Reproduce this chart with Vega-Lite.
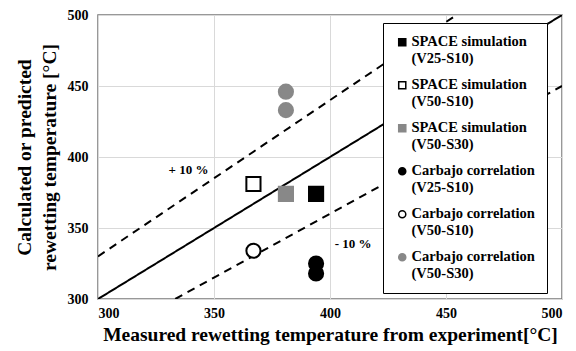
{
  "$schema": "https://vega.github.io/schema/vega-lite/v6.json",
  "width": 464,
  "height": 284,
  "autosize": "none",
  "padding": {"left": 98, "top": 15, "right": 14, "bottom": 52},
  "background": "white",
  "config": {
    "font": "Liberation Serif",
    "view": {"stroke": "#777777", "strokeWidth": 1.5},
    "axis": {
      "grid": true,
      "gridColor": "#d9d9d9",
      "gridWidth": 1,
      "domain": false,
      "ticks": false,
      "labelFont": "Liberation Serif",
      "labelFontWeight": "bold",
      "labelFontSize": 14,
      "labelColor": "#000000",
      "titleFont": "Liberation Serif",
      "titleFontWeight": "bold",
      "titleFontSize": 19.5,
      "titleColor": "#000000"
    },
    "legend": {
      "orient": "none",
      "legendX": 285,
      "legendY": 8,
      "fillColor": "#ffffff",
      "strokeColor": "#000000",
      "padding": 12,
      "symbolSize": 50,
      "symbolStrokeWidth": 1.5,
      "labelFont": "Liberation Serif",
      "labelFontWeight": "bold",
      "labelFontSize": 14.5,
      "labelColor": "#000000",
      "labelLimit": 200,
      "labelOffset": 2,
      "rowPadding": 11
    }
  },
  "datasets": {
    "lines": [
      {"line": "equal", "mx": 300, "cy": 300},
      {"line": "equal", "mx": 500, "cy": 500},
      {"line": "plus10", "mx": 300, "cy": 330},
      {"line": "plus10", "mx": 454.5, "cy": 500},
      {"line": "minus10", "mx": 333.3, "cy": 300},
      {"line": "minus10", "mx": 500, "cy": 450}
    ],
    "points": [
      {"series": "SPACE simulation|(V25-S10)", "mx": 394, "cy": 374},
      {"series": "SPACE simulation|(V50-S10)", "mx": 367, "cy": 381},
      {"series": "SPACE simulation|(V50-S30)", "mx": 381, "cy": 374},
      {"series": "Carbajo correlation|(V25-S10)", "mx": 394, "cy": 325},
      {"series": "Carbajo correlation|(V25-S10)", "mx": 394, "cy": 318},
      {"series": "Carbajo correlation|(V50-S10)", "mx": 367, "cy": 334},
      {"series": "Carbajo correlation|(V50-S30)", "mx": 381, "cy": 446},
      {"series": "Carbajo correlation|(V50-S30)", "mx": 381, "cy": 433}
    ],
    "labels": [
      {"label": "+ 10 %", "mx": 339, "cy": 391},
      {"label": "- 10 %", "mx": 410, "cy": 339}
    ]
  },
  "layer": [
    {
      "data": {"name": "lines"},
      "mark": {"type": "line", "color": "#000000", "strokeWidth": 2, "clip": true},
      "encoding": {
        "x": {
          "field": "mx", "type": "quantitative",
          "scale": {"domain": [300, 500], "nice": false},
          "axis": {"values": [300, 350, 400, 450, 500], "labelPadding": 7, "title": "Measured rewetting temperature from experiment[°C]", "titlePadding": 5}
        },
        "y": {
          "field": "cy", "type": "quantitative",
          "scale": {"domain": [300, 500], "nice": false},
          "axis": {"values": [300, 350, 400, 450, 500], "labelPadding": 10, "title": ["Calculated or predicted", "rewetting temperature [°C]"], "titlePadding": 8, "titleLineHeight": 25}
        },
        "detail": {"field": "line"},
        "strokeDash": {
          "field": "line", "type": "nominal",
          "scale": {"domain": ["equal", "plus10", "minus10"], "range": [[1, 0], [8, 6], [8, 6]]},
          "legend": null
        }
      }
    },
    {
      "data": {"name": "labels"},
      "mark": {"type": "text", "font": "Liberation Serif", "fontWeight": "bold", "fontSize": 13, "color": "#000000"},
      "encoding": {
        "x": {"field": "mx", "type": "quantitative"},
        "y": {"field": "cy", "type": "quantitative"},
        "text": {"field": "label"}
      }
    },
    {
      "data": {"name": "points"},
      "mark": {"type": "point", "filled": false, "size": 200, "strokeWidth": 2, "opacity": 1},
      "encoding": {
        "x": {"field": "mx", "type": "quantitative"},
        "y": {"field": "cy", "type": "quantitative"},
        "fill": {
          "field": "series", "type": "nominal",
          "scale": {
            "domain": ["SPACE simulation|(V25-S10)", "SPACE simulation|(V50-S10)", "SPACE simulation|(V50-S30)", "Carbajo correlation|(V25-S10)", "Carbajo correlation|(V50-S10)", "Carbajo correlation|(V50-S30)"],
            "range": ["#000000", "#ffffff", "#888888", "#000000", "#ffffff", "#888888"]
          },
          "legend": {"title": null, "labelExpr": "split(datum.label, '|')"}
        },
        "stroke": {
          "field": "series", "type": "nominal",
          "scale": {
            "domain": ["SPACE simulation|(V25-S10)", "SPACE simulation|(V50-S10)", "SPACE simulation|(V50-S30)", "Carbajo correlation|(V25-S10)", "Carbajo correlation|(V50-S10)", "Carbajo correlation|(V50-S30)"],
            "range": ["#000000", "#000000", "#888888", "#000000", "#000000", "#888888"]
          },
          "legend": {"title": null, "labelExpr": "split(datum.label, '|')"}
        },
        "shape": {
          "field": "series", "type": "nominal",
          "scale": {
            "domain": ["SPACE simulation|(V25-S10)", "SPACE simulation|(V50-S10)", "SPACE simulation|(V50-S30)", "Carbajo correlation|(V25-S10)", "Carbajo correlation|(V50-S10)", "Carbajo correlation|(V50-S30)"],
            "range": ["square", "square", "square", "circle", "circle", "circle"]
          },
          "legend": {"title": null, "labelExpr": "split(datum.label, '|')"}
        }
      }
    }
  ]
}
